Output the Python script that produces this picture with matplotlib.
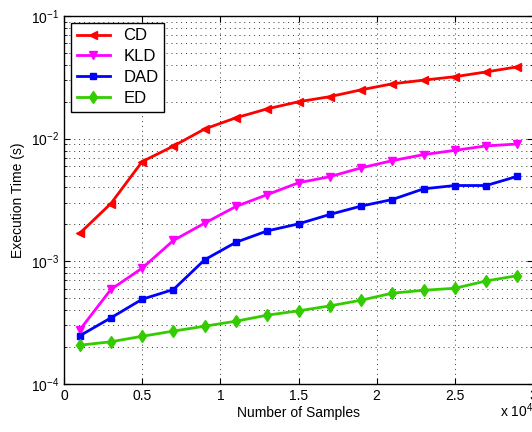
import numpy as np
import matplotlib
matplotlib.use('Agg')
import matplotlib.pyplot as plt
from matplotlib.ticker import LogLocator, FixedLocator, NullFormatter

plt.rcParams['font.family'] = ['Liberation Sans', 'DejaVu Sans']
plt.rcParams['mathtext.fontset'] = 'custom'
plt.rcParams['mathtext.rm'] = 'Liberation Sans'

# numero de amostras
samples = [1000, 3000, 5000, 7000, 9000, 11000, 13000, 15000,
           17000, 19000, 21000, 23000, 25000, 27000, 29000]

# tempos de execucao (s)
cd = [1.69e-3, 2.96e-3, 6.5e-3, 8.7e-3, 1.2e-2, 1.48e-2, 1.75e-2, 2.0e-2,
      2.2e-2, 2.5e-2, 2.8e-2, 3.0e-2, 3.2e-2, 3.5e-2, 3.85e-2]
kld = [2.75e-4, 5.9e-4, 8.8e-4, 1.48e-3, 2.05e-3, 2.8e-3, 3.5e-3, 4.37e-3,
       4.9e-3, 5.78e-3, 6.62e-3, 7.41e-3, 8.03e-3, 8.73e-3, 9.05e-3]
dad = [2.47e-4, 3.46e-4, 4.91e-4, 5.89e-4, 1.03e-3, 1.43e-3, 1.77e-3, 2.02e-3,
       2.41e-3, 2.82e-3, 3.19e-3, 3.9e-3, 4.15e-3, 4.15e-3, 4.93e-3]
ed = [2.07e-4, 2.21e-4, 2.45e-4, 2.7e-4, 2.96e-4, 3.25e-4, 3.64e-4, 3.95e-4,
      4.33e-4, 4.82e-4, 5.5e-4, 5.81e-4, 6.03e-4, 6.92e-4, 7.64e-4]

x_ticks = [0, 0.5, 1, 1.5, 2, 2.5, 3]

fig = plt.figure(figsize=(5.32, 4.32), dpi=100)
ax = fig.add_axes([64/532, 48/432, 469/532, 368/432])

x = np.array(samples) / 1e4
ax.plot(x, cd, color='#ff0000', marker='<', lw=2, ms=6, label='CD')
ax.plot(x, kld, color='#ff00ff', marker='v', lw=2, ms=6, label='KLD')
ax.plot(x, dad, color='#0000ff', marker='s', lw=2, ms=5, label='DAD')
ax.plot(x, ed, color='#33cc00', marker='d', lw=2, ms=6, label='ED')

ax.set_yscale('log')
ax.set_xlim(0, 3)
ax.set_ylim(1e-4, 1e-1)
ax.xaxis.set_major_locator(FixedLocator(x_ticks))
ax.set_xticklabels([f'{t:g}' for t in x_ticks])
ax.yaxis.set_major_locator(LogLocator(base=10, numticks=10))
ax.yaxis.set_minor_locator(LogLocator(base=10, subs=np.arange(2, 10), numticks=20))
ax.yaxis.set_minor_formatter(NullFormatter())

# grade pontilhada estilo matlab
grid_style = dict(linestyle=(0, (1, 4)), color='#333333', lw=0.7)
ax.grid(True, which='major', **grid_style)
ax.grid(True, which='minor', axis='y', **grid_style)

ax.tick_params(which='both', direction='in', top=True, right=True, labelsize=10)
ax.tick_params(which='major', length=4)
ax.tick_params(which='minor', length=2)
for s in ax.spines.values():
    s.set_linewidth(1)

ax.set_xlabel('Number of Samples', fontsize=10, labelpad=2)
ax.set_ylabel('Execution Time (s)', fontsize=10, labelpad=4)
fig.text(500/532, 0.05, r'x 10$^4$', fontsize=10, ha='left', va='center')

leg = ax.legend(loc='upper left', fontsize=12, fancybox=False, framealpha=1,
                edgecolor='black', borderaxespad=0.4, handlelength=2.0,
                labelspacing=0.35, borderpad=0.35)
leg.get_frame().set_linewidth(1)

plt.savefig('out.png', dpi=100)
